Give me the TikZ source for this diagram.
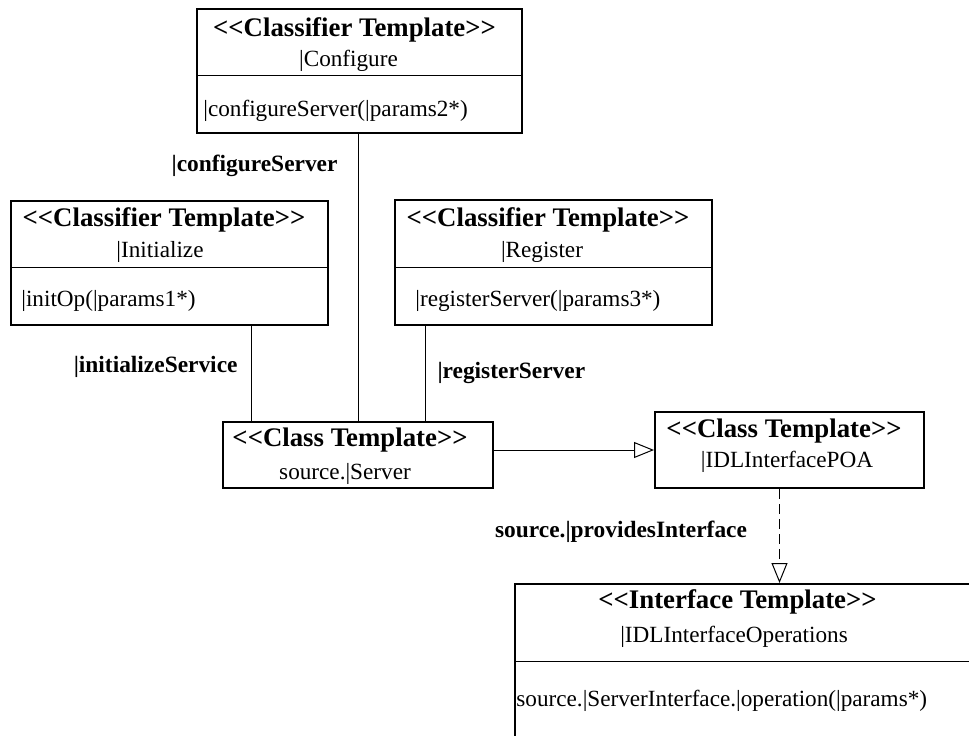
\documentclass[tikz,border=0pt]{standalone}
\usepackage{fontspec}
\setmainfont{Liberation Serif}[Ligatures=TeXOff]
\usetikzlibrary{arrows.meta,calc,positioning}
\tikzset{
  template box/.style={draw,line width=1pt,inner sep=0pt},
  stereotype/.style={anchor=base,inner sep=0pt,
    font=\fontsize{13.4}{15}\selectfont\bfseries},
  member/.style={anchor=base,inner sep=0pt,font=\fontsize{11.6}{13}\selectfont},
  operation/.style={member,anchor=base west},
  divider/.style={line width=.5pt},
  link/.style={line width=.5pt},
  role label/.style={inner sep=0pt,font=\fontsize{11.7}{13}\selectfont\bfseries},
  generalize arrow/.style={link,-{Triangle[open,length=10pt,width=8pt]}},
  realize arrow/.style={generalize arrow,dash pattern=on 5pt off 2.5pt},
}

\begin{document}
\begin{tikzpicture}[x=0.5pt,y=-0.5pt]
  \clip (0,0) rectangle (969,735);

  % The three classifier templates bound to the server.
  \node[template box,minimum width=162.5pt,minimum height=62pt] (configure)
    at (359.5,71) {};
  \node[stereotype] (configure-st) at ($(configure.north)+(-5,28)$)
    {<<Classifier Template>>};
  \node[member] (configure-name) at ($(configure.north)+(-11,58)$)
    {|Configure};
  \draw[divider] ($(configure.north west)+(0,67)$)
    -- ($(configure.north east)+(0,67)$);
  \node[operation] (configure-op) at ($(configure.north west)+(7,108)$)
    {|configureServer(|params2*)};

  \node[template box,minimum width=158.5pt,minimum height=62pt] (initialize)
    at (169.5,263) {};
  \node[stereotype] (initialize-st) at ($(initialize.north)+(-5.5,26)$)
    {<<Classifier Template>>};
  \node[member] (initialize-name) at ($(initialize.north)+(-9.5,57)$)
    {|Initialize};
  \draw[divider] ($(initialize.north west)+(0,67)$)
    -- ($(initialize.north east)+(0,67)$);
  \node[operation] (initialize-op) at ($(initialize.north west)+(11,106)$)
    {|initOp(|params1*)};

  \node[template box,minimum width=158.5pt,minimum height=62.5pt] (register)
    at (553.5,262.5) {};
  \node[stereotype] (register-st) at ($(register.north)+(-5.5,27)$)
    {<<Classifier Template>>};
  \node[member] (register-name) at ($(register.north)+(-11.5,58)$)
    {|Register};
  \draw[divider] ($(register.north west)+(0,68)$)
    -- ($(register.north east)+(0,68)$);
  \node[operation] (register-op) at ($(register.north west)+(21,107)$)
    {|registerServer(|params3*)};

  % Class templates and the interface they end in.
  \node[template box,minimum width=135pt,minimum height=33pt] (server)
    at (358,455) {};
  \node[stereotype] (server-st) at ($(server.north)+(-8,25)$)
    {<<Class Template>>};
  \node[member] (server-name) at ($(server.north)+(-13,58)$)
    {source.|Server};

  \node[template box,minimum width=134.5pt,minimum height=38pt] (poa)
    at (789.5,450) {};
  \node[stereotype] (poa-st) at ($(poa.north)+(-5.5,26)$)
    {<<Class Template>>};
  \node[member] (poa-name) at ($(poa.north)+(-2.5,56)$)
    {|IDLInterfacePOA};

  \node[template box,minimum width=228.5pt,minimum height=88pt] (operations)
    at (743.5,672) {};
  \node[stereotype] (operations-st) at ($(operations.north)+(-6,25)$)
    {<<Interface Template>>};
  \node[member] (operations-name) at ($(operations.north)+(-9.5,59)$)
    {|IDLInterfaceOperations};
  \draw[divider] ($(operations.north west)+(0,78)$)
    -- ($(operations.north east)+(0,78)$);
  \node[operation] (operations-op) at ($(operations.north west)+(2,123)$)
    {source.|ServerInterface.|operation(|params*)};

  % Role bindings, then generalization and realization.
  \draw[link] (server.north |- configure.south)
    -- node[role label,left=10pt,pos=.11] (configure-role)
    {|configureServer} (server.north);
  \draw[link] ([xshift=14.5pt]server.north west |- initialize.south)
    -- node[role label,left=6.5pt,pos=.43] (initialize-role)
    {|initializeService} ([xshift=14.5pt]server.north west);
  \draw[link] ([xshift=-34.5pt]server.north east |- register.south)
    -- node[role label,right=6pt,pos=.49] (register-role)
    {|registerServer} ([xshift=-34.5pt]server.north east);

  \draw[generalize arrow] (server.east |- poa.west) -- (poa.west);
  \draw[realize arrow] ([xshift=-5pt]poa.south)
    -- node[role label,left=16pt,pos=.45] (provides-role)
    {source.|providesInterface} ([xshift=-5pt]poa.south |- operations.north);
\end{tikzpicture}
\end{document}
